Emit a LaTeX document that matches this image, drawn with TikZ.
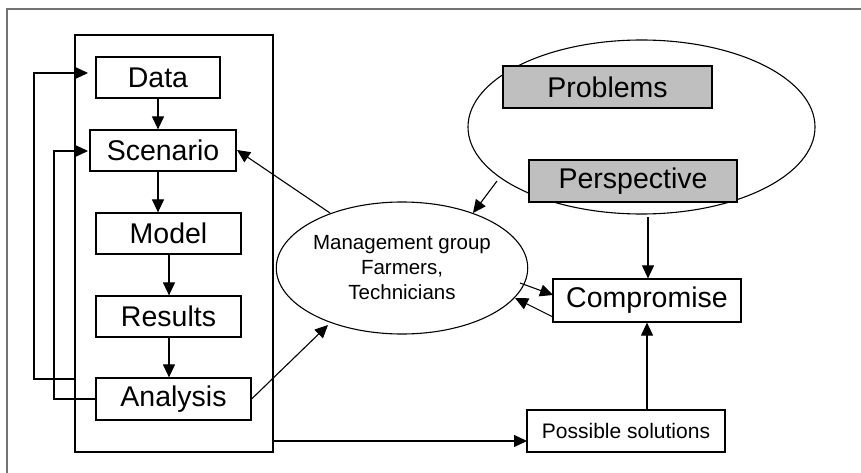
\documentclass[tikz,border=0pt]{standalone}
\usepackage{fontspec}
\setmainfont{Liberation Sans}
\usetikzlibrary{shapes.geometric,arrows.meta}
\tikzset{
  box/.style={draw, line width=1.2pt, inner sep=0pt, font=\fontsize{28.5}{32}\selectfont},
  gbox/.style={box, fill=black!25},
  ell/.style={draw, ellipse, line width=1.1pt, inner sep=0pt},
  con/.style={line width=1.1pt},
  arr/.style={con, -{Triangle[length=13pt,width=12pt]}},
}
\begin{document}
\begin{tikzpicture}[x=1pt,y=-1pt]
\useasboundingbox (0,0) rectangle (861,473);
\draw[black!55, line width=1.2pt] (7,473) -- (7,9) -- (861,9);

% left column
\node[draw, line width=1.2pt, minimum width=198pt, minimum height=417pt, inner sep=0pt] (big) at (174,243.5) {};
\node[box, minimum width=124pt, minimum height=41pt] (data) at (158,77.5) {Data};
\node[box, minimum width=146pt, minimum height=41pt] (scen) at (163,150.5) {Scenario};
\node[box, minimum width=145pt, minimum height=41pt] (model) at (168.5,233.5) {Model};
\node[box, minimum width=145pt, minimum height=41pt] (res) at (168.5,316.5) {Results};
\node[box, minimum width=155pt, minimum height=42pt] (anal) at (173.5,399) {Analysis};

% problems ellipse
\node[ell, minimum width=347pt, minimum height=174pt] (pell) at (641.5,127) {};
\node[gbox, minimum width=209pt, minimum height=42pt] (prob) at (607.5,87) {Problems};
\node[gbox, minimum width=208pt, minimum height=42pt] (persp) at (633,181) {Perspective};

% management
\node[ell, minimum width=242pt, minimum height=132pt, font=\fontsize{20.5}{25}\selectfont, align=center] (mg) at (402,268) {Management group\\Farmers,\\Technicians};

\node[box, minimum width=188pt, minimum height=43pt] (comp) at (647,300.5) {Compromise};
\node[box, minimum width=198pt, minimum height=42pt, font=\fontsize{21}{24}\selectfont] (poss) at (626,431) {Possible solutions};

% coordinates
\coordinate (fbA) at (75,379);
\coordinate (fbAtip) at (88,73);
\coordinate (fbB) at (96,399);
\coordinate (fbBtip) at (88,151);
\coordinate (mgS) at (330,213);
\coordinate (scenE) at (237,150);
\coordinate (mgA) at (328,325);
\coordinate (bigB) at (273,441);
\coordinate (possW) at (527,441);
\coordinate (pellB) at (497,181);
\coordinate (mgT) at (473,213);
\coordinate (mgR1) at (520,283);
\coordinate (compL1) at (553,295);
\coordinate (compL2) at (553,317);
\coordinate (mgR2) at (515,298);
\coordinate (pellS) at (648,217);

% column arrows
\draw[arr] (data.south -| 158,0) -- (scen.north -| 158,0);
\draw[arr] (scen.south -| 158,0) -- (model.north -| 158,0);
\draw[arr] (model.south -| 169,0) -- (res.north -| 169,0);
\draw[arr] (res.south -| 169,0) -- (anal.north -| 169,0);

% feedback loops
\draw[arr] (fbA) -- (34,379) -- (34,73) -- (fbAtip);
\draw[arr] (fbB) -- (54,399) -- (54,151) -- (fbBtip);

% other connectors
\draw[arr] (mgS) -- (scenE);
\draw[arr] (anal.east) -- (mgA);
\draw[arr] (bigB) -- (possW);
\draw[arr] (pellB) -- (mgT);
\draw[arr] (mgR1) -- (compL1);
\draw[arr] (compL2) -- (mgR2);
\draw[arr] (pellS) -- (comp.north -| pellS);
\draw[arr] (poss.north -| 647,0) -- (comp.south -| 647,0);
\end{tikzpicture}
\end{document}
